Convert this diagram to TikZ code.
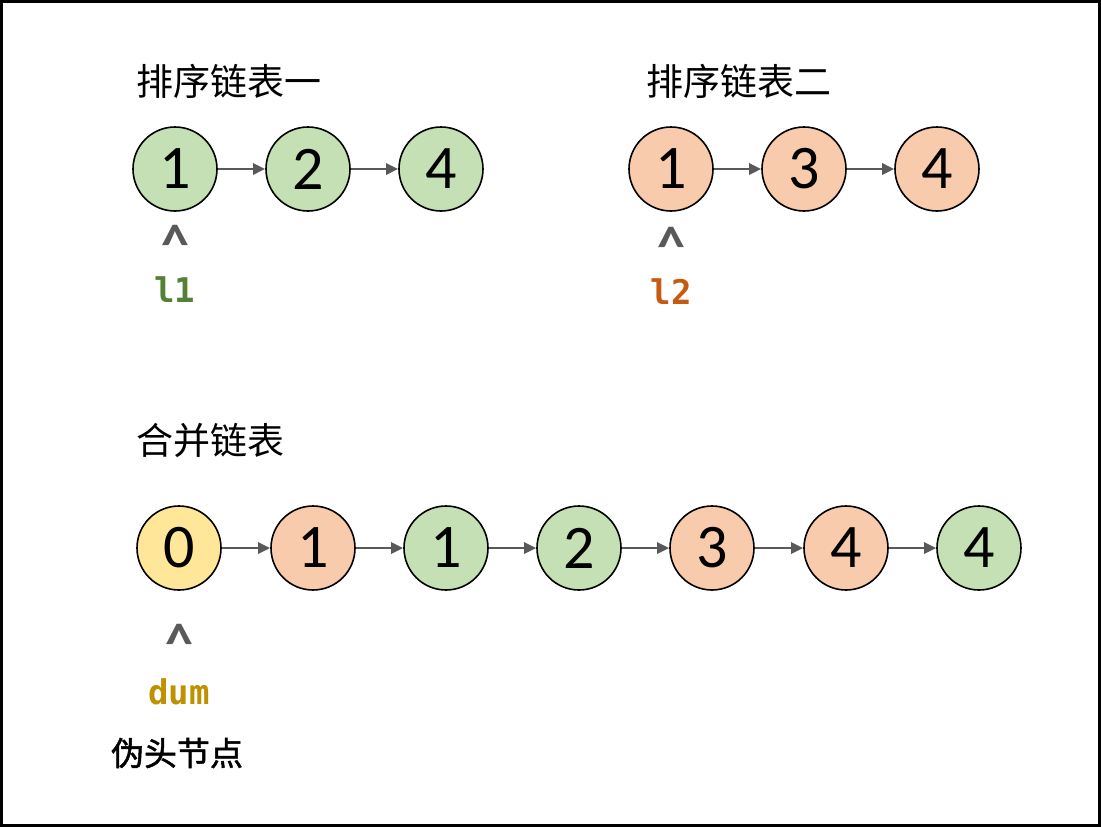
\documentclass[tikz,border=0pt]{standalone}
\usepackage{fontspec}
\setmainfont{Carlito}
\newfontfamily\cjk{Noto Sans CJK SC}
\newfontfamily\cjkm[FakeBold=1.5]{Noto Sans CJK SC}
\newfontfamily\monob{DejaVu Sans Mono}
\usetikzlibrary{arrows.meta}
\definecolor{gfill}{HTML}{C5E0B4}
\definecolor{ofill}{HTML}{F8CBAD}
\definecolor{yfill}{HTML}{FFE699}
\definecolor{gtext}{HTML}{548235}
\definecolor{otext}{HTML}{C55A11}
\definecolor{ytext}{HTML}{BF9000}
\definecolor{arr}{HTML}{595959}
\tikzset{
  lnode/.style={circle, draw=black, line width=1.6pt, minimum size=84pt, inner sep=0pt,
    font=\fontsize{62}{62}\selectfont},
  gnode/.style={lnode, fill=gfill},
  onode/.style={lnode, fill=ofill},
  ynode/.style={lnode, fill=yfill},
  link/.style={draw=arr, line width=2.6pt, -{Triangle[length=12pt,width=11pt]}},
  title/.style={anchor=west, inner sep=0pt, font=\cjk\fontsize{37}{44}\selectfont},
  caret/.style={inner sep=0pt, text=arr, font=\bfseries\fontsize{56}{56}\selectfont},
  ptr/.style={inner sep=0pt, font=\monob\bfseries\fontsize{34}{34}\selectfont},
}
\begin{document}
\begin{tikzpicture}[x=1pt,y=-1pt]
\useasboundingbox (0,0) rectangle (1101,827);
\draw[line width=3pt] (1.5,1.5) rectangle (1099.5,825.5);

\node[title] (t1) at (136,81) {排序链表一};
\node[title] (t2) at (646,81) {排序链表二};
\node[title] (t3) at (136,441) {合并链表};

\node[gnode] (a1) at (175,169) {1};
\node[gnode] (a2) at (308,169) {2};
\node[gnode] (a3) at (441,169) {4};
\draw[link] (a1) -- (a2);
\draw[link] (a2) -- (a3);

\node[onode] (b1) at (671,169) {1};
\node[onode] (b2) at (804,169) {3};
\node[onode] (b3) at (937,169) {4};
\draw[link] (b1) -- (b2);
\draw[link] (b2) -- (b3);

\node[ynode] (c0) at (179,548) {0};
\node[onode] (c1) at (313,548) {1};
\node[gnode] (c2) at (446,548) {1};
\node[gnode] (c3) at (579,548) {2};
\node[onode] (c4) at (712,548) {3};
\node[onode] (c5) at (846,548) {4};
\node[gnode] (c6) at (979,548) {4};
\foreach \i/\j in {c0/c1,c1/c2,c2/c3,c3/c4,c4/c5,c5/c6} \draw[link] (\i) -- (\j);

\node[caret] (k1) at (175,244) {\textasciicircum};
\node[caret] (k2) at (671,246) {\textasciicircum};
\node[caret] (k3) at (179,643) {\textasciicircum};

\node[ptr, text=gtext] (p1) at (175,290) {l1};
\node[ptr, text=otext] (p2) at (671,292) {l2};
\node[ptr, text=ytext] (p3) at (179,692) {dum};
\node[inner sep=0pt, font=\cjkm\fontsize{33}{33}\selectfont] (lab) at (177,753) {伪头节点};
\end{tikzpicture}
\end{document}
